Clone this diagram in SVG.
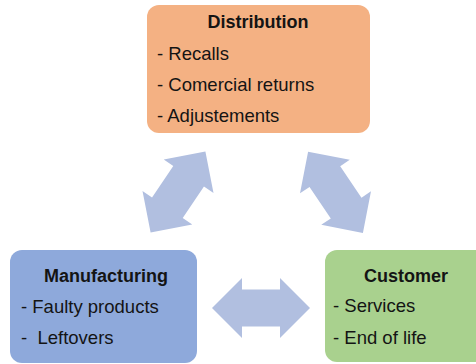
<svg xmlns="http://www.w3.org/2000/svg" width="476" height="364" viewBox="0 0 476 364">
<style>
.t{font-family:"Liberation Sans",Arial,sans-serif;font-size:18.5px;fill:#141414}
.h{font-family:"Liberation Sans",Arial,sans-serif;font-size:18px;font-weight:bold;fill:#141414;text-anchor:middle}
.arr{fill:#B1BFE0}
</style>
<defs>
<path id="dbl" d="M-49,0 L-19,-30 L-19,-18.5 L19,-18.5 L19,-30 L49,0 L19,30 L19,18.5 L-19,18.5 L-19,30 Z"/>
</defs>
<rect width="476" height="364" fill="#ffffff"/>
<g id="connectors">
<use href="#dbl" class="arr" transform="translate(178,192) rotate(-56)"/>
<use href="#dbl" class="arr" transform="translate(335.5,192.3) rotate(56)"/>
<use href="#dbl" class="arr" transform="translate(261,308)"/>
</g>
<g id="distribution">
<rect x="147" y="5" width="223" height="128" rx="12" fill="#F4B183"/>
<text class="h" x="258" y="28">Distribution</text>
<text class="t" x="157" y="60">- Recalls</text>
<text class="t" x="157" y="91">- Comercial returns</text>
<text class="t" x="157" y="122">- Adjustements</text>
</g>
<g id="manufacturing">
<rect x="10" y="250" width="187" height="113" rx="12" fill="#8EA9DB"/>
<text class="h" x="106" y="282">Manufacturing</text>
<text class="t" x="21" y="313">- Faulty products</text>
<text class="t" x="21" y="344" xml:space="preserve">-  Leftovers</text>
</g>
<g id="customer">
<rect x="325" y="250" width="165" height="112" rx="12" fill="#A9D18E"/>
<text class="h" x="406" y="282">Customer</text>
<text class="t" x="333" y="312">- Services</text>
<text class="t" x="333" y="344">- End of life</text>
</g>
</svg>
